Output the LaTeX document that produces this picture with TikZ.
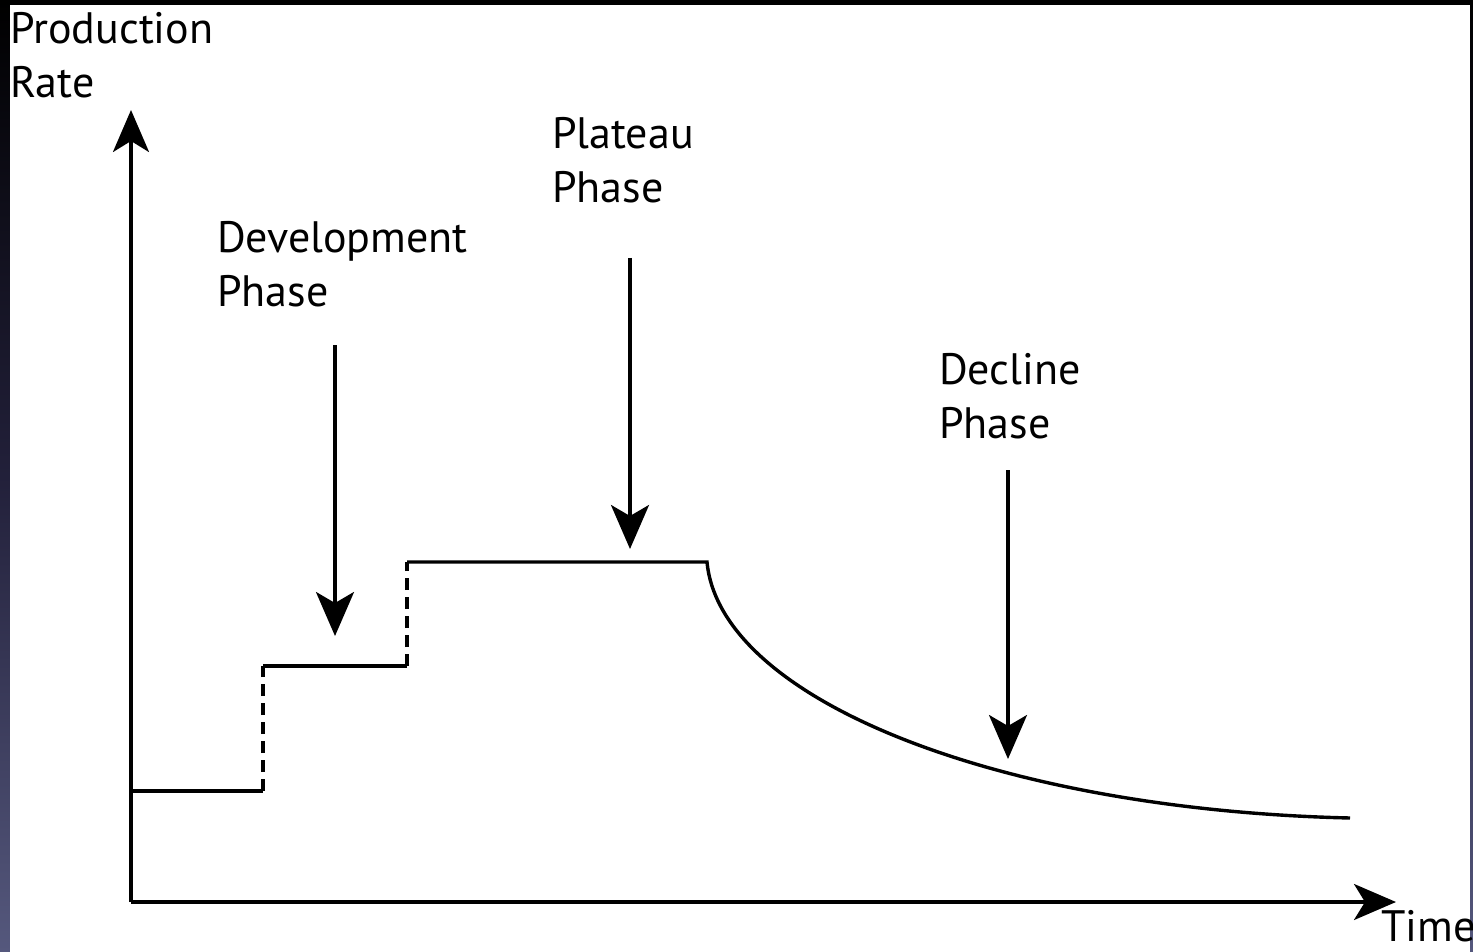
\documentclass[tikz,border=0pt]{standalone}
\usepackage{fontspec}
\setmainfont{PT Sans}
\usetikzlibrary{arrows.meta}
\definecolor{edgebot}{RGB}{85,88,125}
\definecolor{edgemid}{RGB}{34,32,58}
\begin{document}
\begin{tikzpicture}[x=1pt,y=-1pt,
  axis/.style={line width=3.4pt,-{Stealth[length=42pt,width=36pt,inset=11pt]}},
  pointer/.style={line width=3.4pt,-{Stealth[length=44pt,width=38pt,inset=11pt]}},
  curve/.style={line width=3.4pt,line join=miter},
  jump/.style={line width=3.4pt,dash pattern=on 12pt off 7pt},
  label/.style={font=\fontsize{44}{54}\selectfont,align=left,anchor=north west,inner sep=0pt}]
\useasboundingbox (0,0) rectangle (1473,952);
\shade[top color=black,bottom color=edgebot,middle color=edgemid] (0,0) rectangle (1473,952);
\fill[white] (10,5) rectangle (1470,952);
% coordinates
\coordinate (O) at (131,902);
\coordinate (Ytip) at (131,110);
\coordinate (Xtip) at (1396,902);
\coordinate (s0) at (131,791);
\coordinate (s1) at (263,791);
\coordinate (s2) at (263,666);
\coordinate (s3) at (407,666);
\coordinate (s4) at (407,562);
\coordinate (s5) at (707,562);
\coordinate (s6) at (1350,818);
% axes
\draw[axis] (O) -- (Ytip);
\draw[axis] (O) -- (Xtip);
% production curve
\draw[curve] (s0) -- (s1);
\draw[jump] (s1) -- (s2);
\draw[curve] (s2) -- (s3);
\draw[jump] (s3) -- (s4);
\draw[curve] (s4) -- (s5) .. controls (720,700) and (1000,810) .. (s6);
% labels
\node[label] (ylab) at (10,12) {Production\\Rate};
\node[label] (xlab) at (1381,910) {Time};
\node[label] (dev) at (217,221) {Development\\Phase};
\node[label] (plat) at (552,117) {Plateau\\Phase};
\node[label] (decl) at (939,353) {Decline\\Phase};
% pointers
\coordinate (devS) at (335,345);
\coordinate (devE) at (335,636);
\coordinate (platS) at (630,258);
\coordinate (platE) at (630,549);
\coordinate (declS) at (1008,470);
\coordinate (declE) at (1008,759);
\draw[pointer] (devS) -- (devE);
\draw[pointer] (platS) -- (platE);
\draw[pointer] (declS) -- (declE);
\end{tikzpicture}
\end{document}
